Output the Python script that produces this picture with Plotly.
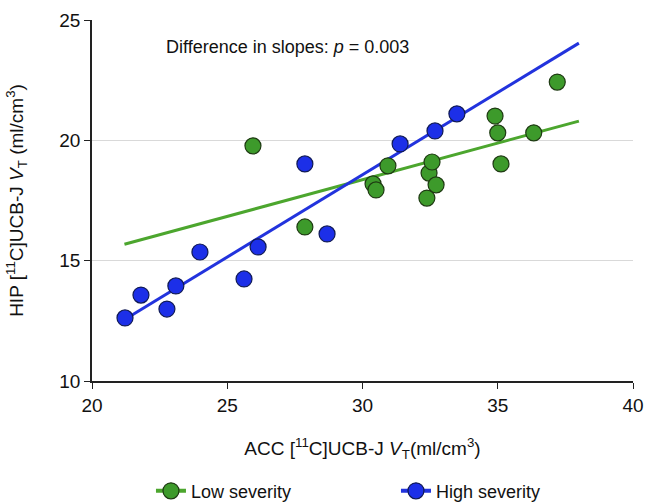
import plotly.graph_objects as go

# Low severity (green)
low_x = [25.95, 27.87, 30.39, 30.50, 30.94, 32.38, 32.46, 32.72, 32.57, 34.90, 35.00, 35.12, 36.33, 37.20]
low_y = [19.77, 16.40, 18.19, 17.94, 18.94, 17.60, 18.64, 18.15, 19.10, 21.01, 20.31, 19.02, 20.31, 22.42]

# High severity (blue)
high_x = [21.22, 21.81, 22.77, 23.10, 23.99, 25.62, 26.14, 27.87, 28.69, 31.39, 32.68, 33.49]
high_y = [12.62, 13.57, 12.99, 13.95, 15.36, 14.24, 15.57, 19.02, 16.11, 19.85, 20.39, 21.10]

# Regression line endpoints
low_fit_x = [21.2, 38.0]
low_fit_y = [15.68, 20.80]
high_fit_x = [21.3, 38.0]
high_fit_y = [12.62, 24.04]

x_ticks = [20, 25, 30, 35, 40]
y_ticks = [10, 15, 20, 25]

GREEN_FILL = "#3d9a2b"
GREEN_LINE = "#4ca62e"
BLUE_FILL = "#1c2fe8"
BLUE_LINE = "#2233dd"

fig = go.Figure()

fig.add_trace(go.Scatter(x=low_fit_x, y=low_fit_y, mode="lines",
                         line=dict(color=GREEN_LINE, width=3), showlegend=False, hoverinfo="skip"))
fig.add_trace(go.Scatter(x=high_fit_x, y=high_fit_y, mode="lines",
                         line=dict(color=BLUE_LINE, width=3), showlegend=False, hoverinfo="skip"))

fig.add_trace(go.Scatter(x=low_x, y=low_y, mode="markers", name="Low severity",
                         marker=dict(size=16, color=GREEN_FILL, line=dict(color="#1e3a12", width=1.2)),
                         showlegend=False))
fig.add_trace(go.Scatter(x=high_x, y=high_y, mode="markers", name="High severity",
                         marker=dict(size=16, color=BLUE_FILL, line=dict(color="#101a55", width=1.2)),
                         showlegend=False))

# Legend entries (line + marker)
fig.add_trace(go.Scatter(x=[None], y=[None], mode="lines+markers", name="Low severity",
                         line=dict(color=GREEN_LINE, width=4),
                         marker=dict(size=16, color=GREEN_FILL, line=dict(color="#1e3a12", width=1.2))))
fig.add_trace(go.Scatter(x=[None], y=[None], mode="lines+markers", name="High severity",
                         line=dict(color=BLUE_LINE, width=4),
                         marker=dict(size=16, color=BLUE_FILL, line=dict(color="#101a55", width=1.2))))

fig.add_annotation(x=0.134, y=0.925, xref="paper", yref="paper", xanchor="left", yanchor="middle",
                   text="Difference in slopes: <i>p</i> = 0.003", showarrow=False,
                   font=dict(size=18, color="#111111"))

fig.update_layout(
    width=655, height=502,
    margin=dict(l=92, r=22, t=20, b=121, autoexpand=False),
    paper_bgcolor="white", plot_bgcolor="white",
    font=dict(family="Liberation Sans, Arial, sans-serif", color="#111111"),
    xaxis=dict(range=[20, 40], tickvals=x_ticks, showgrid=False, zeroline=False,
               showline=True, linecolor="#222222", linewidth=1.5, automargin=False,
               ticks="outside", ticklen=6, tickcolor="#222222", tickwidth=1.2,
               tickfont=dict(size=19),
               title=dict(text="ACC [<sup>11</sup>C]UCB-J <i>V</i><sub>T</sub>(ml/cm<sup>3</sup>)",
                          font=dict(size=19), standoff=27)),
    yaxis=dict(range=[10, 25], tickvals=y_ticks, showgrid=True, gridcolor="#d9d9d9", gridwidth=1,
               zeroline=False, showline=True, linecolor="#222222", linewidth=1.5, automargin=False,
               ticks="outside", ticklen=6, tickcolor="#222222", tickwidth=1.2,
               tickfont=dict(size=19),
               title=dict(text="HIP [<sup>11</sup>C]UCB-J <i>V</i><sub>T</sub> (ml/cm<sup>3</sup>)",
                          font=dict(size=19), standoff=31)),
    legend=dict(orientation="h", x=0.109, xanchor="left", y=-0.305, yanchor="middle",
                font=dict(size=18), itemwidth=30, traceorder="normal",
                entrywidth=200, entrywidthmode="pixels"),
)

fig.write_html("out.html", config={"displayModeBar": False},
               post_script="document.body.style.margin='0';document.body.style.overflow='hidden';")
